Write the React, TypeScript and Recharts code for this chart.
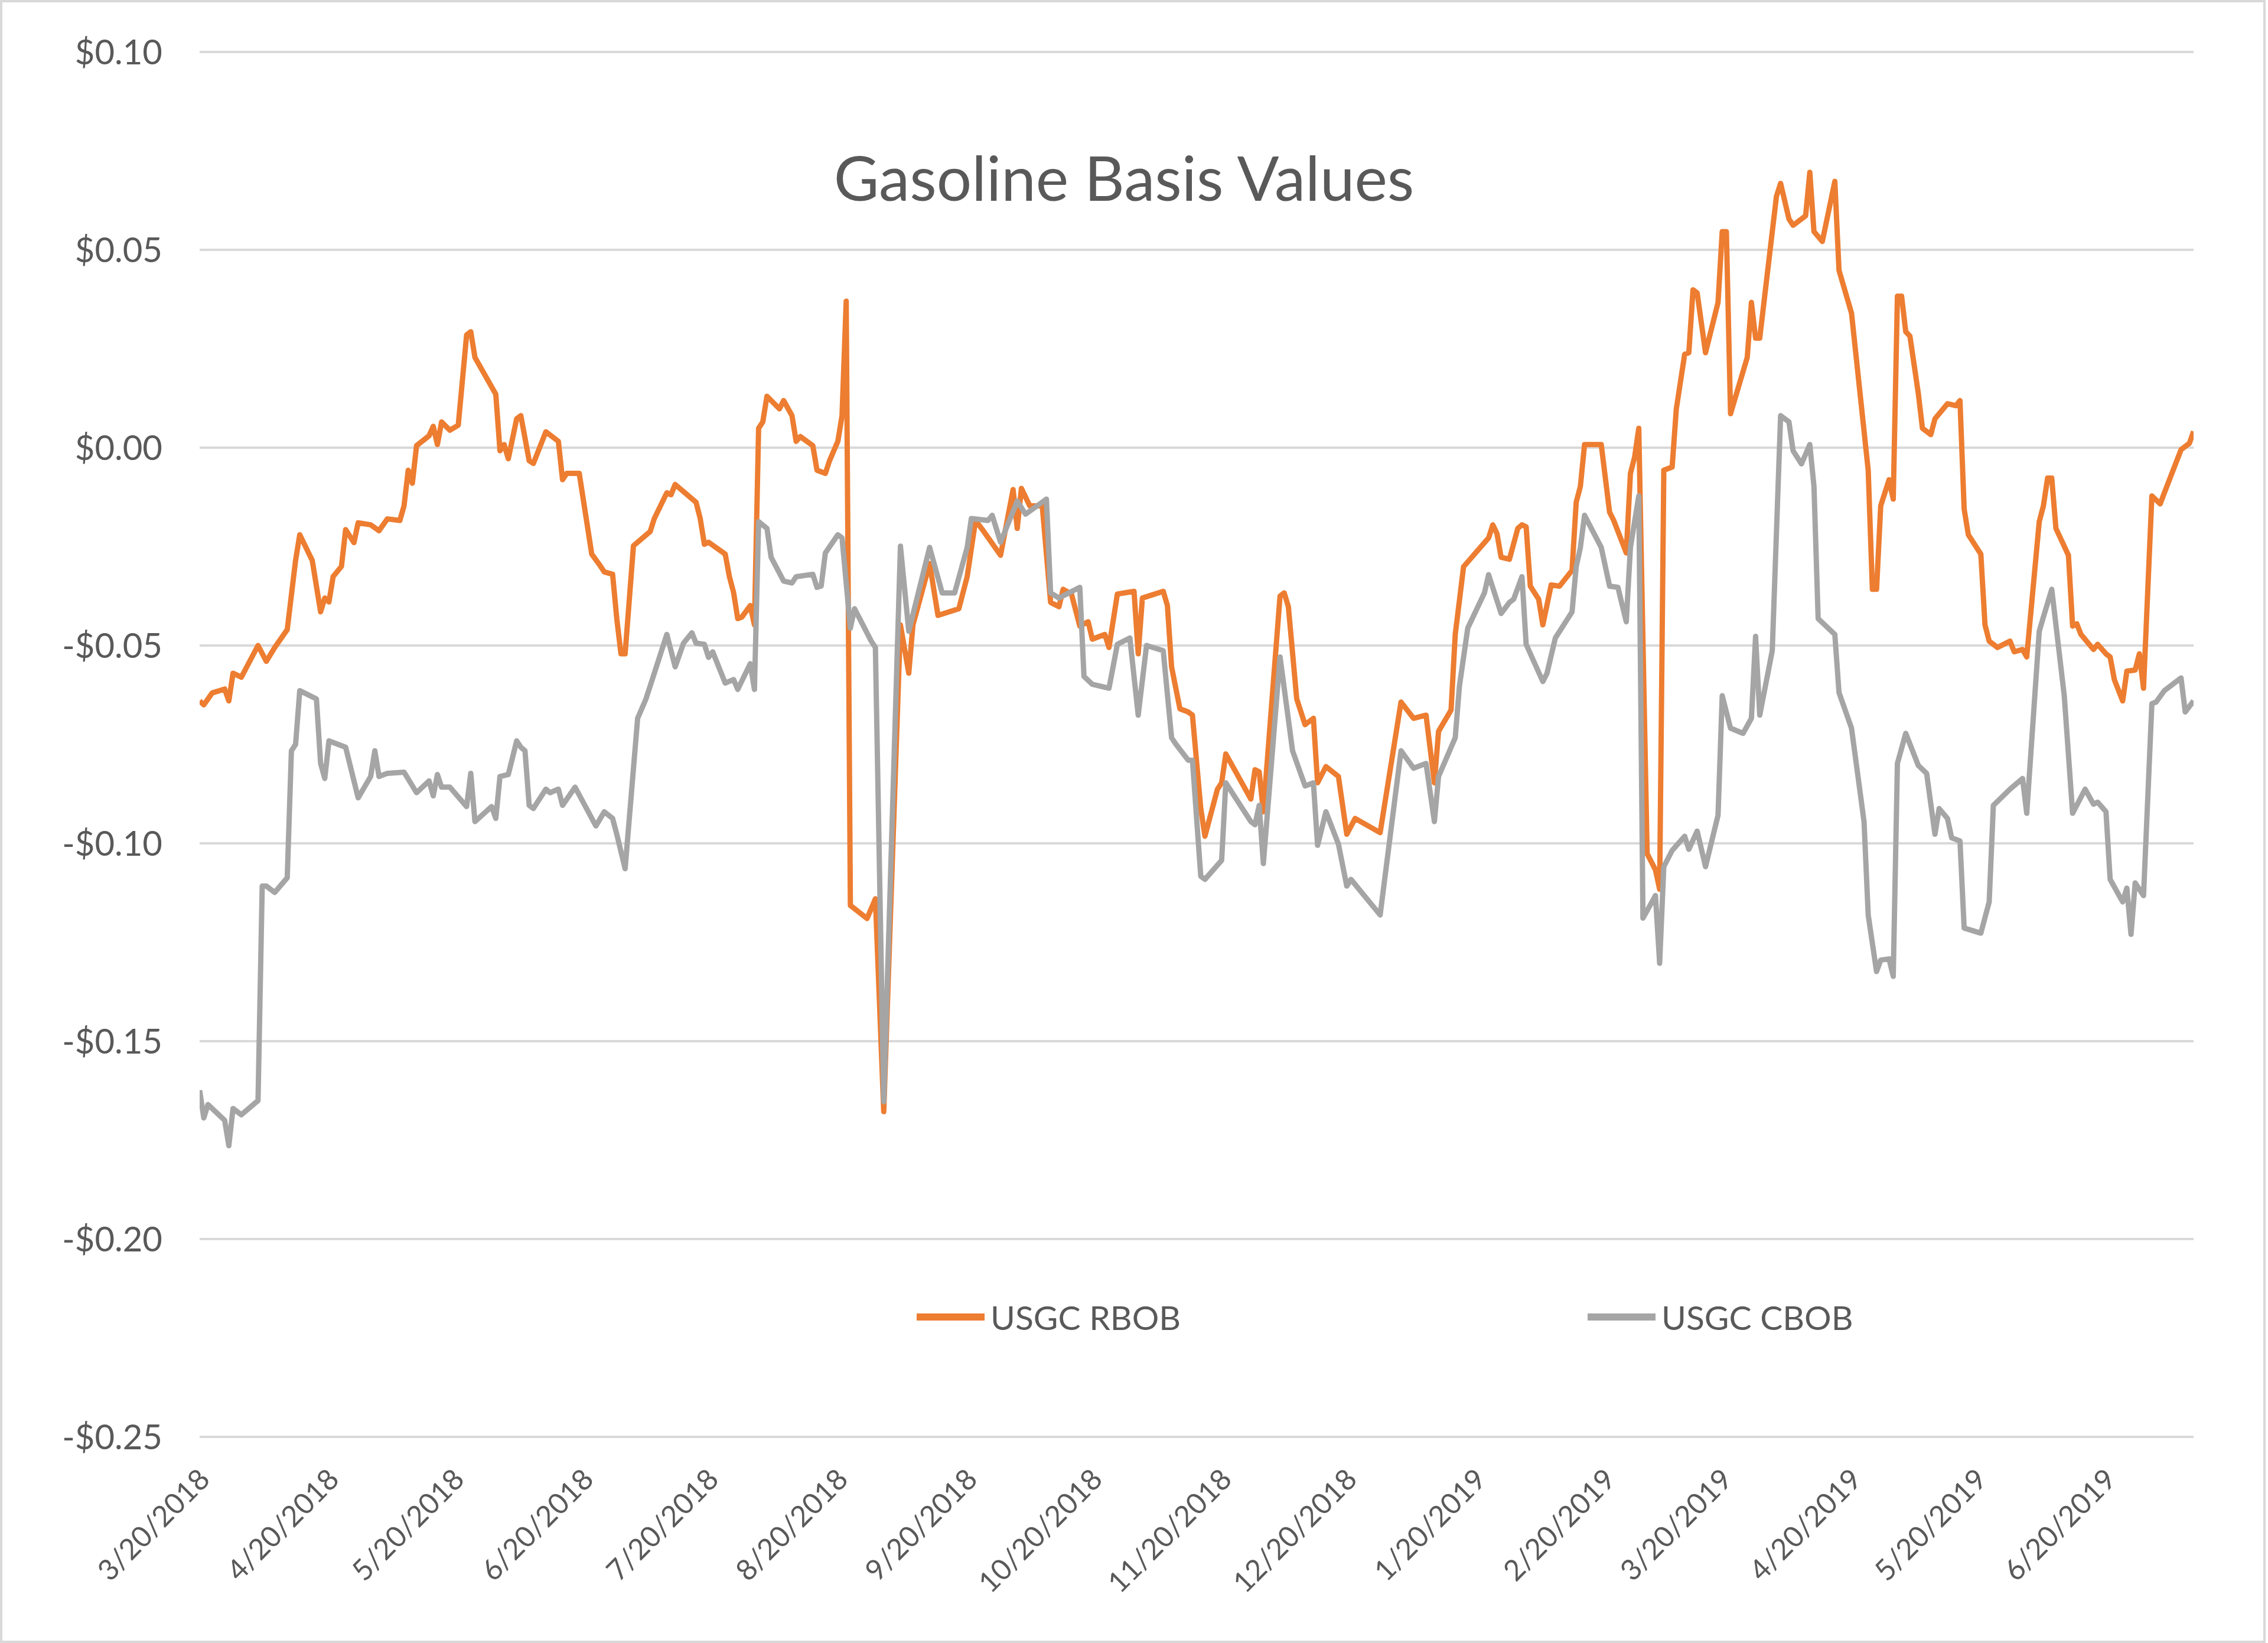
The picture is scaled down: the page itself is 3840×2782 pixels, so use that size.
import React from "react";
import { LineChart, Line, CartesianGrid, XAxis, YAxis, Legend } from "recharts";

// days counted from 3/20/2018 (first trading day shown)
const BASE_DATE = "3/20/2018";
const LAST_DAY = 478; // 7/11/2019

const seriesNames = ["USGC RBOB", "USGC CBOB"];
const tickLabels = [
  "3/20/2018", "4/20/2018", "5/20/2018", "6/20/2018", "7/20/2018", "8/20/2018",
  "9/20/2018", "10/20/2018", "11/20/2018", "12/20/2018", "1/20/2019", "2/20/2019",
  "3/20/2019", "4/20/2019", "5/20/2019", "6/20/2019",
];
const yTicks = [-0.25, -0.2, -0.15, -0.1, -0.05, 0, 0.05, 0.1];

const rbobDay = [
  0, 1, 3, 6, 7, 8, 10, 14, 16, 18, 21, 23, 24, 27, 29, 30, 31, 32, 34, 35, 37, 38, 41, 43, 45, 48, 49, 50, 51, 52,
  55, 56, 57, 58, 60, 62, 64, 65, 66, 71, 72, 73, 74, 76, 77, 79, 80, 83, 86, 87, 88, 91, 94, 96, 97, 99, 100, 101, 102, 104,
  108, 109, 112, 113, 114, 119, 120, 121, 122, 126, 127, 128, 129, 130, 132, 133, 134, 135, 136, 139, 140, 142, 143, 144, 147, 148, 150, 151, 153, 154,
  155, 156, 157, 160, 162, 164, 168, 170, 171, 175, 177, 182, 184, 186, 188, 192, 195, 196, 197, 199, 202, 204, 206, 207, 209, 211, 213, 214, 217, 218,
  220, 224, 225, 226, 231, 232, 233, 235, 237, 238, 240, 241, 244, 245, 246, 252, 253, 254, 255, 259, 260, 261, 263, 265, 267, 268, 270, 273, 275, 277,
  283, 288, 291, 294, 296, 297, 300, 301, 303, 309, 310, 311, 312, 314, 316, 317, 318, 319, 321, 322, 324, 326, 329, 330, 331, 332, 336, 338, 339, 342,
  343, 344, 345, 347, 349, 350, 351, 353, 354, 356, 357, 358, 359, 361, 364, 365, 366, 367, 371, 372, 373, 374, 378, 379, 381, 382, 385, 386, 387, 389,
  392, 393, 396, 400, 401, 402, 403, 405, 406, 407, 408, 409, 410, 412, 413, 415, 416, 419, 421, 422, 423, 424, 427, 428, 429, 431, 434, 435, 437, 438,
  441, 442, 443, 444, 445, 448, 449, 450, 451, 454, 455, 457, 458, 459, 461, 462, 464, 465, 466, 468, 470, 471, 475, 477, 478,
];
const rbobValue = [
  -0.064, -0.065, -0.062, -0.061, -0.064, -0.057, -0.058, -0.05, -0.054, -0.0505, -0.046, -0.0285, -0.022, -0.0285, -0.0415, -0.038, -0.039, -0.0326, -0.03, -0.0207, -0.024, -0.019, -0.0195, -0.021, -0.018, -0.0184, -0.0147, -0.0057, -0.009, 0.0005,
  0.003, 0.0054, 0.0008, 0.0065, 0.0044, 0.0057, 0.0285, 0.0293, 0.0228, 0.0135, -0.0008, 0.0008, -0.0028, 0.0073, 0.0081, -0.0033, -0.004, 0.004, 0.0016, -0.0081, -0.0065, -0.0065, -0.0269, -0.0298, -0.0314, -0.032, -0.0432, -0.0521, -0.0521, -0.0248,
  -0.0212, -0.0179, -0.0114, -0.0119, -0.0093, -0.0138, -0.0179, -0.0244, -0.0239, -0.0269, -0.0326, -0.0366, -0.0432, -0.0428, -0.0399, -0.0448, 0.0049, 0.0065, 0.013, 0.0098, 0.0119, 0.0081, 0.0016, 0.0028, 0.0005, -0.0057, -0.0065, -0.0033, 0.0016, 0.0081,
  0.037, -0.1157, -0.1165, -0.119, -0.114, -0.1678, -0.0448, -0.057, -0.0448, -0.0293, -0.0424, -0.0407, -0.0326, -0.0184, -0.0212, -0.0272, -0.0106, -0.0204, -0.0103, -0.0147, -0.0147, -0.0391, -0.0402, -0.0358, -0.037, -0.0451, -0.044, -0.0484, -0.0472, -0.0505,
  -0.037, -0.0363, -0.0521, -0.038, -0.0363, -0.0399, -0.0554, -0.066, -0.0668, -0.0676, -0.0912, -0.0982, -0.0863, -0.0847, -0.0774, -0.0888, -0.0814, -0.0819, -0.092, -0.0375, -0.0367, -0.0402, -0.0635, -0.07, -0.0684, -0.0847, -0.0806, -0.0831, -0.0977, -0.0937,
  -0.0973, -0.0643, -0.0684, -0.0676, -0.0847, -0.0717, -0.0663, -0.0472, -0.0301, -0.0228, -0.0195, -0.0217, -0.0277, -0.0282, -0.0204, -0.0195, -0.02, -0.035, -0.0383, -0.0448, -0.0347, -0.035, -0.031, -0.0138, -0.0098, 0.0008, 0.0008, -0.0163, -0.0184, -0.0266,
  -0.0065, -0.0024, 0.0049, -0.1026, -0.1067, -0.1116, -0.0057, -0.0049, 0.0098, 0.0236, 0.024, 0.0399, 0.0391, 0.024, 0.0367, 0.0546, 0.0546, 0.0086, 0.0228, 0.0367, 0.0277, 0.0277, 0.0635, 0.0668, 0.0578, 0.0562, 0.0586, 0.0696, 0.0546, 0.0521,
  0.0673, 0.0448, 0.034, -0.0057, -0.0358, -0.0358, -0.0147, -0.0081, -0.013, 0.0383, 0.0383, 0.0293, 0.0282, 0.0138, 0.0049, 0.0033, 0.0073, 0.0111, 0.0106, 0.0119, -0.0155, -0.022, -0.0269, -0.0448, -0.0489, -0.0505, -0.0489, -0.0516, -0.051, -0.0529,
  -0.0187, -0.0147, -0.0077, -0.0077, -0.0204, -0.0272, -0.0451, -0.0445, -0.0472, -0.051, -0.0497, -0.0521, -0.0529, -0.0586, -0.064, -0.0565, -0.0562, -0.0521, -0.0608, -0.0122, -0.0142, -0.0114, -0.0005, 0.0011, 0.0041,
];

const cbobDay = [
  0, 1, 2, 6, 7, 8, 10, 14, 15, 16, 18, 21, 22, 23, 24, 28, 29, 30, 31, 35, 38, 41, 42, 43, 45, 49, 52, 55, 56, 57,
  58, 60, 64, 65, 66, 70, 71, 72, 74, 76, 77, 78, 79, 80, 83, 84, 86, 87, 90, 95, 97, 99, 100, 102, 105, 107, 109, 112, 114, 116,
  118, 119, 121, 122, 123, 126, 128, 129, 132, 133, 134, 136, 137, 140, 142, 143, 147, 148, 149, 150, 153, 154, 156, 157, 159, 161, 162, 164, 168, 170,
  175, 178, 181, 184, 185, 189, 190, 192, 196, 198, 203, 204, 206, 211, 212, 214, 218, 220, 223, 225, 227, 231, 233, 234, 237, 238, 240, 241, 245, 246,
  252, 253, 254, 255, 259, 262, 265, 267, 268, 270, 273, 275, 276, 283, 288, 291, 294, 296, 297, 301, 302, 304, 308, 309, 312, 314, 315, 317, 318, 322,
  323, 325, 329, 330, 331, 332, 336, 338, 340, 342, 343, 345, 346, 349, 350, 351, 353, 356, 357, 359, 361, 364, 365, 367, 370, 372, 373, 374, 377, 379,
  381, 382, 384, 386, 387, 388, 392, 393, 396, 399, 400, 402, 403, 405, 406, 407, 409, 412, 414, 416, 417, 419, 420, 422, 423, 427, 429, 430, 434, 437,
  438, 441, 442, 444, 447, 449, 452, 454, 455, 457, 458, 461, 462, 463, 464, 466, 468, 469, 471, 475, 476, 478,
];
const cbobValue = [
  -0.1624, -0.1694, -0.166, -0.17, -0.1764, -0.167, -0.1686, -0.165, -0.1108, -0.1108, -0.1124, -0.1087, -0.0766, -0.075, -0.0614, -0.0635, -0.0798, -0.0836, -0.0741, -0.0757, -0.0885, -0.0831, -0.0766, -0.0831, -0.0823, -0.082, -0.0872, -0.0842, -0.088, -0.0826,
  -0.0858, -0.0858, -0.0907, -0.0823, -0.0945, -0.0907, -0.0937, -0.0831, -0.0826, -0.0741, -0.0757, -0.0766, -0.0904, -0.0912, -0.0863, -0.0872, -0.0863, -0.0904, -0.0858, -0.0956, -0.092, -0.0937, -0.0977, -0.1064, -0.0684, -0.0635, -0.057, -0.0472, -0.0554, -0.0494,
  -0.0468, -0.0494, -0.0497, -0.053, -0.0516, -0.0595, -0.0586, -0.0611, -0.0546, -0.0611, -0.0187, -0.0204, -0.0277, -0.0337, -0.0342, -0.0326, -0.032, -0.0353, -0.035, -0.0266, -0.022, -0.0228, -0.0456, -0.0407, -0.0448, -0.0489, -0.0505, -0.1653, -0.0249, -0.0464,
  -0.0252, -0.0367, -0.0367, -0.0252, -0.0179, -0.0184, -0.0171, -0.0239, -0.0135, -0.0168, -0.013, -0.0367, -0.038, -0.0353, -0.0578, -0.0598, -0.0608, -0.0497, -0.0481, -0.0676, -0.05, -0.0513, -0.0733, -0.0749, -0.079, -0.079, -0.1083, -0.1091, -0.1043, -0.0847,
  -0.0945, -0.0953, -0.0904, -0.1051, -0.0529, -0.0766, -0.0855, -0.0847, -0.1005, -0.092, -0.1002, -0.1108, -0.1091, -0.1181, -0.0766, -0.081, -0.0798, -0.0945, -0.0831, -0.0733, -0.0603, -0.0456, -0.0367, -0.0321, -0.0419, -0.0391, -0.0383, -0.0326, -0.0497, -0.0591,
  -0.057, -0.0481, -0.0415, -0.0301, -0.0252, -0.0171, -0.0252, -0.035, -0.0353, -0.044, -0.0252, -0.0122, -0.1189, -0.1132, -0.1303, -0.1059, -0.1018, -0.0982, -0.1015, -0.0969, -0.1059, -0.0929, -0.0627, -0.0709, -0.0722, -0.0684, -0.0477, -0.0676, -0.0513, 0.0081,
  0.0065, -0.0008, -0.0041, 0.0008, -0.0098, -0.0432, -0.0472, -0.0619, -0.0709, -0.0945, -0.1181, -0.1324, -0.1295, -0.1292, -0.1336, -0.0798, -0.0722, -0.0803, -0.0823, -0.0977, -0.0912, -0.0937, -0.0986, -0.0994, -0.1214, -0.1227, -0.1148, -0.0904, -0.0863, -0.0836,
  -0.0924, -0.0464, -0.0428, -0.0358, -0.0627, -0.0924, -0.0863, -0.0901, -0.0896, -0.092, -0.1091, -0.1148, -0.1113, -0.123, -0.11, -0.1132, -0.0647, -0.0643, -0.0614, -0.0582, -0.0668, -0.064,
];

const ORANGE = "#ED7D31";
const GRAY = "#A5A5A5";
const TEXT = "#595959";
const FONT = "Lato, 'Open Sans', sans-serif";

function dayOf(label: string) {
  const [m, d, y] = label.split("/").map(Number);
  const [bm, bd, by] = BASE_DATE.split("/").map(Number);
  return Math.round((Date.UTC(y, m - 1, d) - Date.UTC(by, bm - 1, bd)) / 86400000);
}

const tickDays = tickLabels.map(dayOf);
const rbobData = rbobDay.map((day, i) => ({ day, value: rbobValue[i] }));
const cbobData = cbobDay.map((day, i) => ({ day, value: cbobValue[i] }));

function money(v: number) {
  const s = "$" + Math.abs(v).toFixed(2);
  return v < -1e-9 ? "-" + s : s;
}

function DateTick(props: any) {
  const { x, y, payload } = props;
  const i = tickDays.indexOf(payload.value);
  const ax = x + 20;
  const ay = y + 75;
  return (
    <text x={ax} y={ay} transform={`rotate(-45, ${ax}, ${ay})`} textAnchor="end" fill={TEXT} fontSize={49} fontFamily={FONT}>
      {i >= 0 ? tickLabels[i] : ""}
    </text>
  );
}

function LegendBox(props: any) {
  const items = [...(props.payload || [])].sort(
    (a: any, b: any) => seriesNames.indexOf(a.value) - seriesNames.indexOf(b.value)
  );
  return (
    <div style={{ display: "flex", fontFamily: FONT, fontSize: 57, color: TEXT }}>
      {items.map((it: any, i: number) => (
        <div key={it.value} style={{ display: "flex", alignItems: "center", width: i === 0 ? 1136 : "auto" }}>
          <div style={{ width: 115, height: 12, background: it.color, marginRight: 10 }} />
          <span>{it.value}</span>
        </div>
      ))}
    </div>
  );
}

export default function App() {
  return (
    <div style={{ position: "absolute", left: 0, top: 0, width: 3840, height: 2782, background: "#fff" }}>
      <div style={{ position: "absolute", left: 0, top: 0, width: 3836, height: 2782, boxSizing: "border-box", border: "4px solid #D9D9D9" }} />
      <div style={{ position: "absolute", left: 0, top: 247, width: 3806, textAlign: "center", fontFamily: FONT, fontSize: 105, lineHeight: "105px", color: TEXT }}>
        Gasoline Basis Values
      </div>
      <div style={{ position: "absolute", left: 0, top: 0 }}>
        <LineChart width={3840} height={2782} margin={{ top: 88, right: 126, bottom: 0, left: 0 }}>
          <CartesianGrid vertical={false} stroke="#D9D9D9" strokeWidth={4} />
          <XAxis
            dataKey="day"
            type="number"
            domain={[0, LAST_DAY]}
            ticks={tickDays}
            interval={0}
            allowDataOverflow
            axisLine={false}
            tickLine={false}
            tickSize={0}
            tickMargin={0}
            height={349}
            tick={<DateTick />}
          />
          <YAxis
            type="number"
            domain={[-0.25, 0.1]}
            ticks={yTicks}
            interval={0}
            width={338}
            axisLine={false}
            tickLine={false}
            tickSize={0}
            tickMargin={63}
            tickFormatter={money}
            tick={{ fill: TEXT, fontSize: 58, fontFamily: FONT }}
          />
          <Legend
            verticalAlign="middle"
            layout="horizontal"
            wrapperStyle={{ top: 2196, left: 1552, width: 2000 }}
            content={<LegendBox />}
          />
          <Line data={rbobData} dataKey="value" name={seriesNames[0]} type="linear" stroke={ORANGE} strokeWidth={9} strokeLinejoin="round" dot={false} activeDot={false} isAnimationActive={false} />
          <Line data={cbobData} dataKey="value" name={seriesNames[1]} type="linear" stroke={GRAY} strokeWidth={9} strokeLinejoin="round" dot={false} activeDot={false} isAnimationActive={false} />
        </LineChart>
      </div>
    </div>
  );
}
